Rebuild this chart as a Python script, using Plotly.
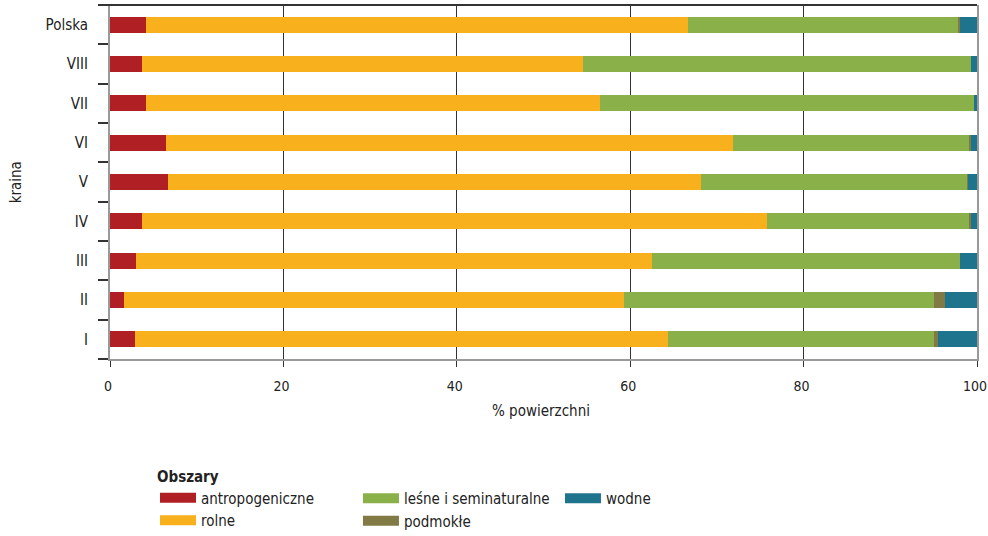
import plotly.graph_objects as go

categories = ["I", "II", "III", "IV", "V", "VI", "VII", "VIII", "Polska"]

antropogeniczne = [2.9, 1.6, 3.0, 3.7, 6.7, 6.5, 4.15, 3.7, 4.15]
rolne = [61.5, 57.7, 59.5, 72.1, 61.5, 65.4, 52.35, 50.85, 62.5]
lesne = [30.6, 35.7, 35.5, 23.3, 30.65, 27.2, 43.15, 44.75, 31.2]
podmokle = [0.5, 1.3, 0.0, 0.2, 0.1, 0.2, 0.0, 0.0, 0.2]
wodne = [4.5, 3.7, 2.0, 0.7, 1.05, 0.7, 0.35, 0.7, 1.95]

series = [
    ("antropogeniczne", antropogeniczne, "#B01F24", "legend"),
    ("rolne", rolne, "#F8B01D", "legend"),
    ("leśne i seminaturalne", lesne, "#8AB04A", "legend2"),
    ("podmokłe", podmokle, "#827A44", "legend2"),
    ("wodne", wodne, "#1F748D", "legend3"),
]

FONT = "DejaVu Sans Condensed, sans-serif"
FS = 15
TXT = "#222"

fig = go.Figure()
for name, vals, color, _ in series:
    fig.add_trace(go.Bar(
        y=categories, x=vals, name=name, orientation="h",
        marker=dict(color=color, line=dict(width=0)),
        showlegend=False,
    ))
for name, vals, color, leg in series:
    fig.add_trace(go.Scatter(
        x=[None], y=[None], mode="lines", name=name,
        line=dict(color=color, width=16), legend=leg, showlegend=True,
        hoverinfo="skip",
    ))

legend_common = dict(
    orientation="v", xanchor="left", yanchor="top", traceorder="normal",
    font=dict(family=FONT, size=FS, color=TXT),
    itemwidth=36, tracegroupgap=0, bgcolor="rgba(0,0,0,0)",
)

fig.update_layout(
    width=988, height=546,
    margin=dict(l=110, r=11, t=5, b=187),
    plot_bgcolor="white", paper_bgcolor="white",
    barmode="stack", bargap=0.59,
    font=dict(family=FONT, size=FS, color=TXT),
    xaxis=dict(
        range=[0, 100], tickvals=[0, 20, 40, 60, 80, 100],
        showgrid=True, gridcolor="#333", gridwidth=1,
        zeroline=False, automargin=False,
        showline=True, linecolor="#999", linewidth=1.5,
        ticks="outside", ticklen=6, tickcolor="#333", tickwidth=1,
        tickfont=dict(size=14),
        ticklabelstandoff=7, ticklabelshift=-2, ticklabeloverflow="allow",
        fixedrange=True,
    ),
    yaxis=dict(
        categoryorder="array", categoryarray=categories,
        showgrid=False, zeroline=False, automargin=False,
        showline=True, linecolor="#999", linewidth=2, mirror=True,
        ticks="outside", tickson="boundaries", ticklen=10, tickcolor="#333", tickwidth=1.5,
        ticklabelstandoff=17,
        fixedrange=True,
    ),
    annotations=[
        dict(text="kraina", xref="paper", yref="paper", x=-0.108, y=0.5,
             xanchor="center", yanchor="middle", textangle=-90, showarrow=False,
             font=dict(family=FONT, size=FS, color=TXT)),
        dict(text="% powierzchni", xref="paper", yref="paper", x=0.497, y=-0.147,
             xanchor="center", yanchor="middle", showarrow=False,
             font=dict(family=FONT, size=FS, color=TXT)),
    ],
    legend=dict(x=0.0519, y=-0.291, title=dict(text="<b>Obszary</b>", font=dict(size=FS, family=FONT)), **legend_common),
    legend2=dict(x=0.2860, y=-0.3475, **legend_common),
    legend3=dict(x=0.5190, y=-0.3475, **legend_common),
    shapes=[dict(type="line", xref="paper", yref="paper", x0=-0.0115, x1=1, y0=1, y1=1,
                 line=dict(color="#333", width=2))],
)

fig.write_html("out.html", config={"displayModeBar": False},
               post_script="document.body.style.margin='0';document.body.style.overflow='hidden';")
